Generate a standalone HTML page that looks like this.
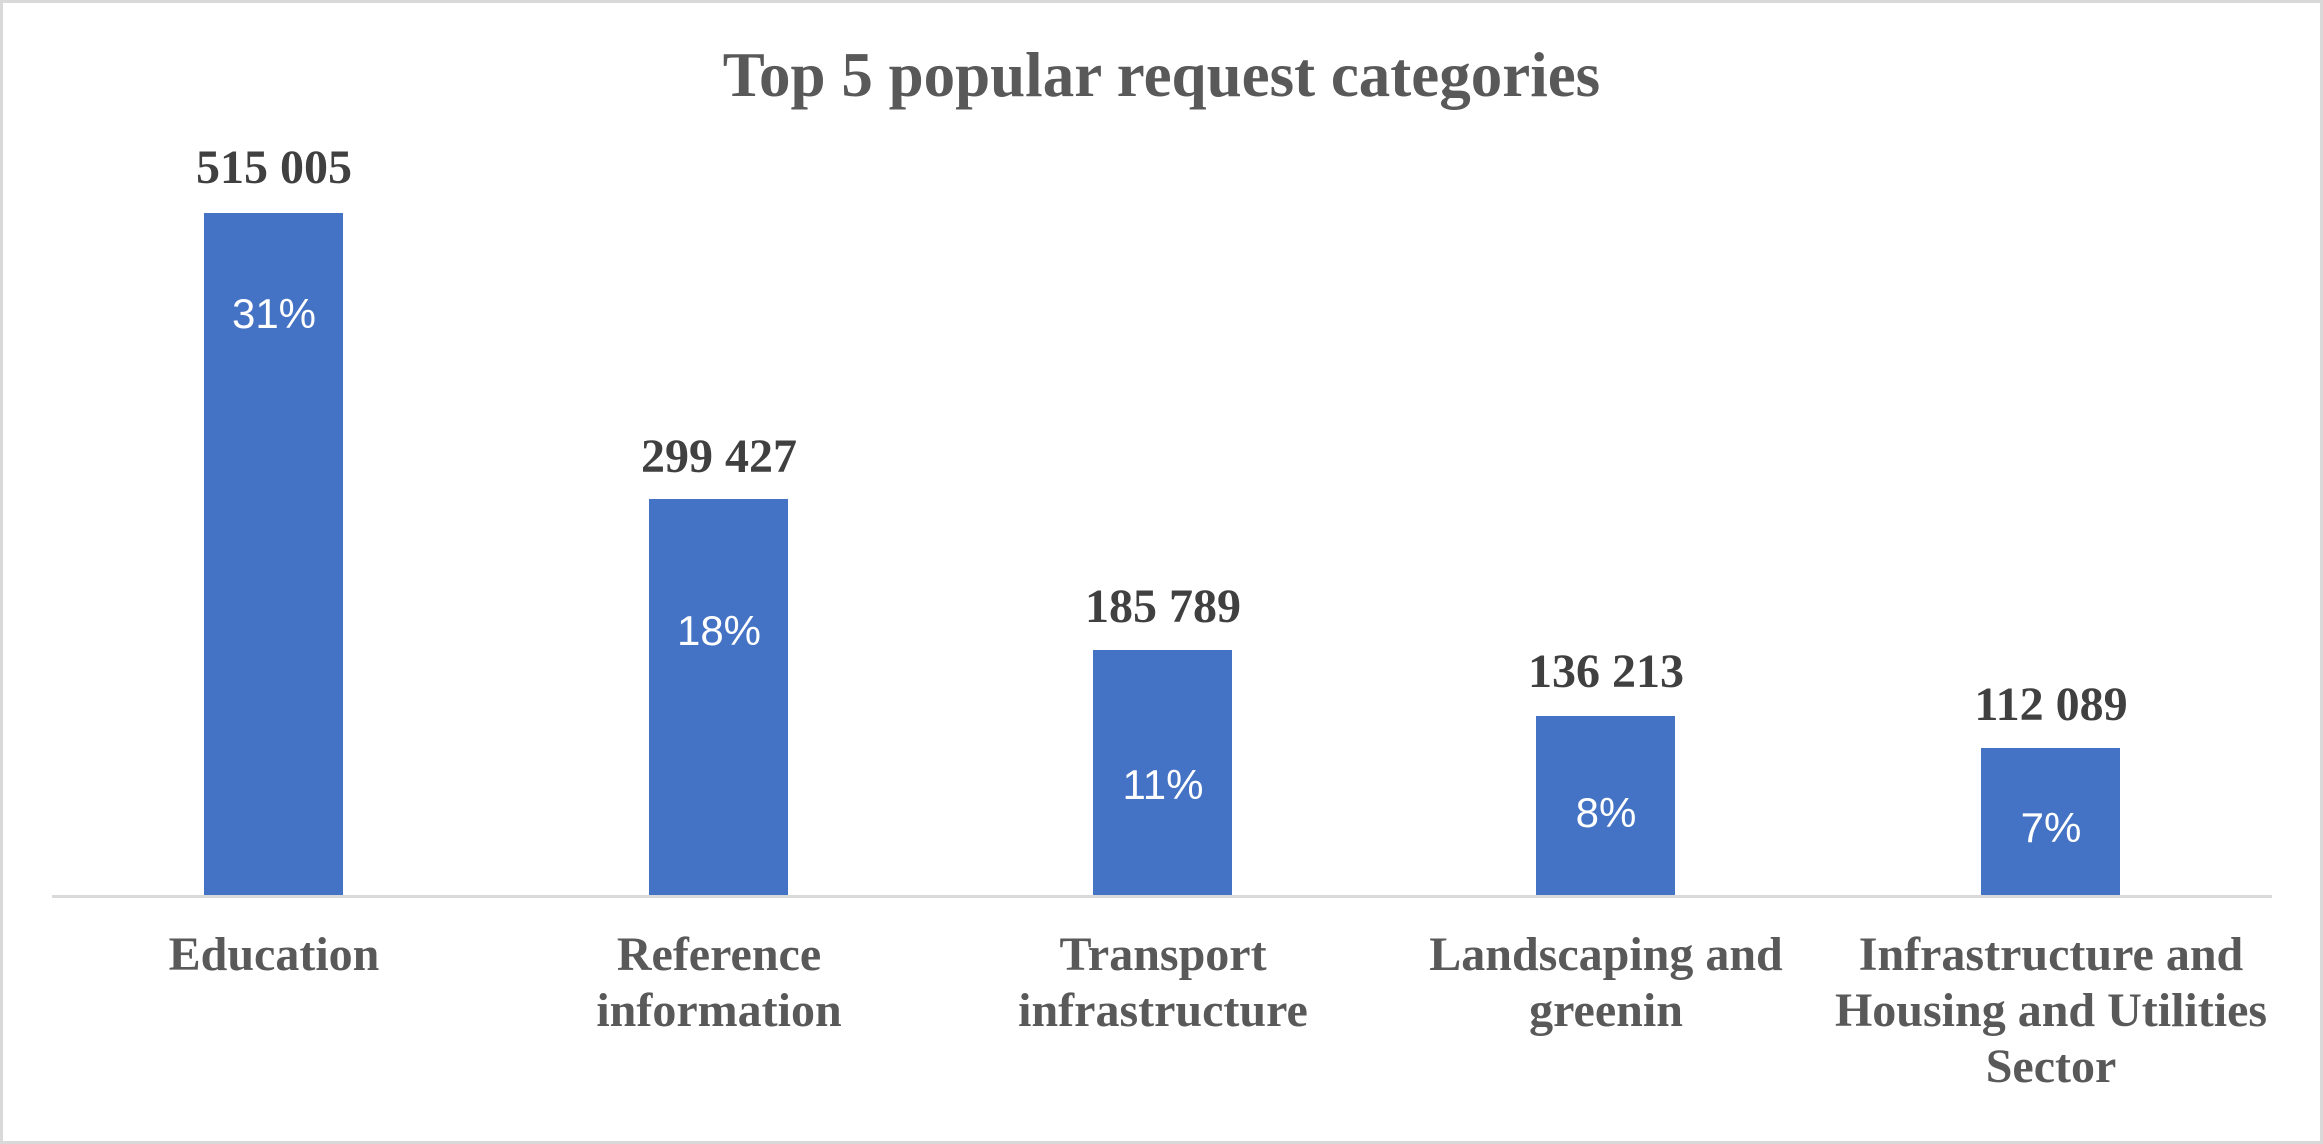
<!DOCTYPE html>
<html><head><meta charset="utf-8"><style>
html,body{margin:0;padding:0;background:#fff}
.c{position:relative;width:2323px;height:1144px;box-sizing:border-box;border:3px solid #d9d9d9;background:#fff;overflow:hidden}
.t{position:absolute;font-family:"Liberation Serif",serif;font-weight:bold;text-align:center;white-space:nowrap}
.bar{position:absolute;background:#4472c4}
.v{color:#404040;font-size:48px;width:300px;line-height:50px}
.p{position:absolute;font-family:"Liberation Sans",sans-serif;color:#fff;font-size:42px;width:200px;text-align:center;line-height:46px}
.cat{color:#595959;font-size:48px;line-height:56px;width:460px}
</style></head><body><div class="c">
<div class="t" style="left:0;width:2317px;top:36px;font-size:63px;color:#595959;line-height:72px">Top 5 popular request categories</div>
<div style="position:absolute;left:49px;top:892px;width:2220px;height:3px;background:#d9d9d9"></div>

<div class="bar" style="left:201px;top:210px;width:139px;height:682px"></div>
<div class="bar" style="left:646px;top:496px;width:139px;height:396px"></div>
<div class="bar" style="left:1090px;top:647px;width:139px;height:245px"></div>
<div class="bar" style="left:1533px;top:713px;width:139px;height:179px"></div>
<div class="bar" style="left:1978px;top:745px;width:139px;height:147px"></div>

<div class="t v" style="left:121px;top:140px">515 005</div>
<div class="t v" style="left:566px;top:429px">299 427</div>
<div class="t v" style="left:1010px;top:579px">185 789</div>
<div class="t v" style="left:1453px;top:644px">136 213</div>
<div class="t v" style="left:1898px;top:677px">112 089</div>

<div class="p" style="left:171px;top:288px">31%</div>
<div class="p" style="left:616px;top:605px">18%</div>
<div class="p" style="left:1060px;top:759px">11%</div>
<div class="p" style="left:1503px;top:787px">8%</div>
<div class="p" style="left:1948px;top:802px">7%</div>

<div class="t cat" style="left:41px;top:924px">Education</div>
<div class="t cat" style="left:486px;top:924px">Reference<br>information</div>
<div class="t cat" style="left:930px;top:924px">Transport<br>infrastructure</div>
<div class="t cat" style="left:1373px;top:924px">Landscaping and<br>greenin</div>
<div class="t cat" style="left:1818px;top:924px">Infrastructure and<br>Housing and Utilities<br>Sector</div>
</div></body></html>
